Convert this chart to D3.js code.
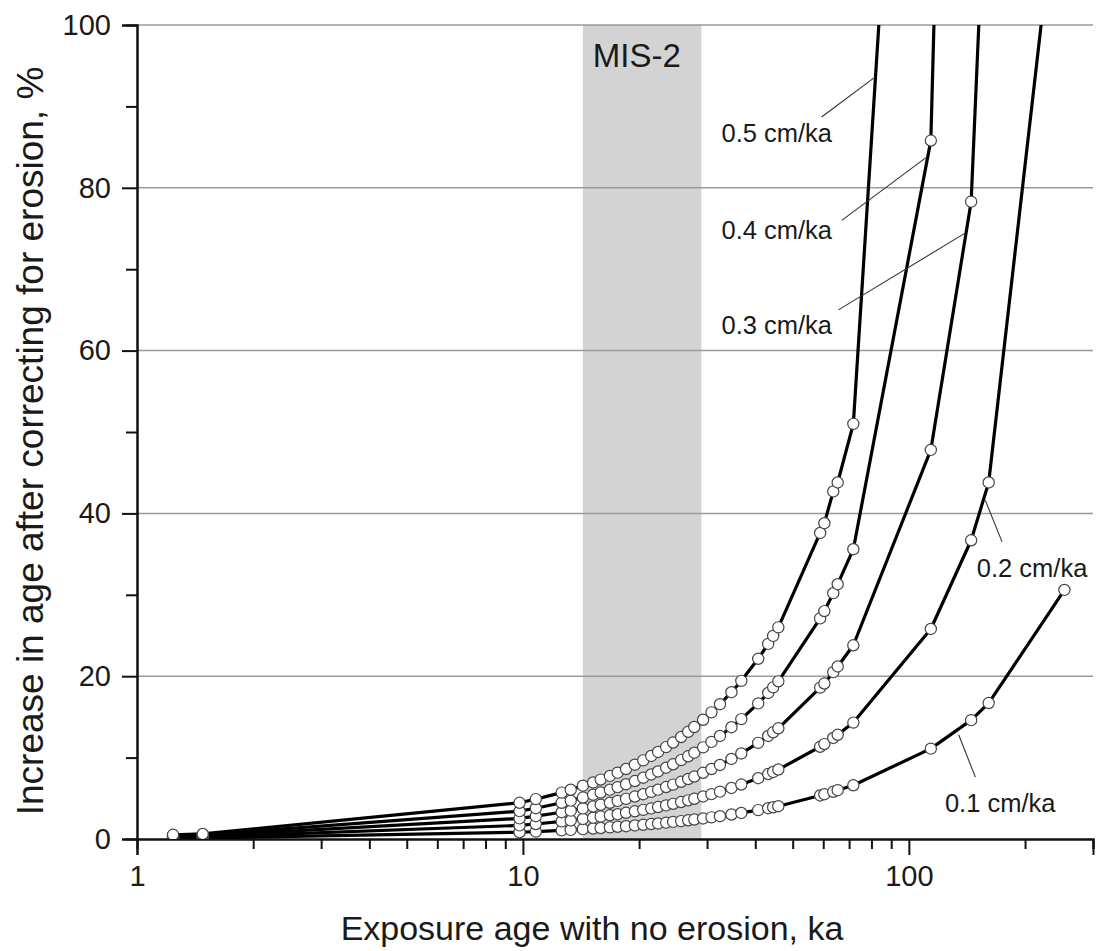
<!DOCTYPE html>
<html>
<head>
<meta charset="utf-8">
<title>Erosion correction</title>
<script src="https://cdn.jsdelivr.net/npm/d3@7"></script>
<style>
  body { margin: 0; background: #fff; }
  text { font-family: "Liberation Sans", Arial, sans-serif; fill: #1a1a1a; }
</style>
</head>
<body>
<svg id="mainsvg" width="1096" height="951"></svg>
<script>
// exposure ages (ka, no erosion) shared by every curve
const ages = [1.24, 1.48, 9.8, 10.8, 12.6, 13.3, 14.3, 15.2, 15.9, 16.8, 17.6, 18.5, 19.5, 20.5,
  21.5, 22.4, 23.5, 24.5, 25.7, 26.8, 27.8, 29.3, 30.8, 32.4, 34.7, 36.8, 40.7, 43.2, 44.5, 45.9,
  58.9, 60.4, 63.7, 65.4, 71.8, 114, 145, 161, 253];

// increase in age (%) for each erosion rate; null = no solution (saturated)
const rate01 = [0.1, 0.12, 0.83, 0.91, 1.06, 1.12, 1.21, 1.29, 1.35, 1.43, 1.5, 1.57, 1.66, 1.75,
  1.84, 1.91, 2.01, 2.1, 2.2, 2.3, 2.39, 2.52, 2.66, 2.8, 3.01, 3.2, 3.55, 3.78, 3.9, 4.03,
  5.35, 5.5, 5.8, 6.0, 6.6, 11.1, 14.6, 16.7, 30.6];
const rate02 = [0.21, 0.25, 1.67, 1.84, 2.16, 2.28, 2.46, 2.62, 2.75, 2.91, 3.05, 3.22, 3.4, 3.58,
  3.76, 3.93, 4.13, 4.32, 4.54, 4.75, 4.94, 5.23, 5.51, 5.82, 6.27, 6.69, 7.47, 7.98, 8.24, 8.53,
  11.33, 11.66, 12.41, 12.8, 14.3, 25.8, 36.7, 43.8, 125];
const rate03 = [0.31, 0.37, 2.53, 2.8, 3.29, 3.48, 3.76, 4.0, 4.2, 4.45, 4.68, 4.93, 5.22, 5.5,
  5.79, 6.06, 6.38, 6.68, 7.03, 7.37, 7.67, 8.13, 8.6, 9.1, 9.83, 10.51, 11.81, 12.66, 13.11, 13.6,
  18.6, 19.1, 20.5, 21.2, 23.8, 47.8, 78.3, 128, null];
const rate04 = [0.41, 0.49, 3.42, 3.78, 4.45, 4.71, 5.09, 5.44, 5.71, 6.06, 6.37, 6.73, 7.12, 7.53,
  7.93, 8.3, 8.76, 9.18, 9.69, 10.16, 10.6, 11.26, 11.93, 12.66, 13.73, 14.73, 16.66, 17.94, 18.63, 19.37,
  27.1, 28.0, 30.2, 31.3, 35.6, 85.8, 270, null, null];
const rate05 = [0.52, 0.62, 4.45, 4.9, 5.7, 6.05, 6.55, 6.95, 7.3, 7.75, 8.15, 8.6, 9.13, 9.66,
  10.2, 10.69, 11.29, 11.85, 12.53, 13.17, 13.76, 14.65, 15.56, 16.56, 18.03, 19.43, 22.14, 23.97, 24.95, 26.0,
  37.6, 38.8, 42.7, 43.8, 51, 200, null, null, null];

const seriesNames = ["0.1 cm/ka", "0.2 cm/ka", "0.3 cm/ka", "0.4 cm/ka", "0.5 cm/ka"];
const seriesValues = [rate01, rate02, rate03, rate04, rate05];

// label text anchor [age, %] and leader line [[age, %], [age, %]]
const labelPos = [[124, 3.3], [150, 32.2], [32.7, 62], [32.7, 73.7], [32.7, 85.6]];
const leaders = [
  [[148.7, 7.6], [134.6, 12.8]],
  [[174.4, 36.5], [157.8, 41.6]],
  [[65.7, 65], [139.5, 74.4]],
  [[67, 76], [111.4, 83.8]],
  [[59.4, 88.7], [81.7, 93.6]]
];

const mis2 = [14.3, 29];
const yMajor = [0, 20, 40, 60, 80, 100];
const yMinor = [10, 30, 50, 70, 90];
const xMajor = [1, 10, 100];
const xMinor = [2, 3, 4, 5, 6, 7, 8, 9, 20, 30, 40, 50, 60, 70, 80, 90, 200, 300];

const svg = d3.select("#mainsvg");
const x = d3.scaleLog().domain([1, 300]).range([137, 1093]);
const y = d3.scaleLinear().domain([0, 100]).range([839, 25]);

// MIS-2 band
svg.append("rect")
  .attr("x", x(mis2[0])).attr("y", y(100))
  .attr("width", x(mis2[1]) - x(mis2[0])).attr("height", y(0) - y(100))
  .attr("fill", "#d3d3d3");

svg.append("text")
  .attr("x", x(mis2[0]) + 54).attr("y", y(96.3))
  .attr("text-anchor", "middle").attr("dominant-baseline", "central")
  .attr("font-size", 33).text("MIS-2");

// horizontal grid
svg.append("g").selectAll("line")
  .data(yMajor.filter(d => d > 0))
  .join("line")
  .attr("x1", x(1)).attr("x2", x(300))
  .attr("y1", d => y(d)).attr("y2", d => y(d))
  .attr("stroke", "#9a9a9a").attr("stroke-width", 1.5);

// axes
const yAxisMajor = d3.axisLeft(y).tickValues(yMajor).tickSize(15).tickPadding(11).tickFormat(d3.format("d"));
const yAxisMinor = d3.axisLeft(y).tickValues(yMinor).tickSize(11).tickFormat("");
const xAxisMajor = d3.axisBottom(x).tickValues(xMajor).tickSize(16).tickPadding(10).tickFormat(d3.format("d"));
const xAxisMinor = d3.axisBottom(x).tickValues(xMinor).tickSize(10).tickFormat("");

function styleAxis(g) {
  g.select(".domain").attr("stroke", "#111").attr("stroke-width", 2);
  g.selectAll(".tick line").attr("stroke", "#111").attr("stroke-width", 2);
  g.selectAll(".tick text").attr("font-size", 29).attr("font-family", "Liberation Sans, Arial, sans-serif").attr("fill", "#1a1a1a");
}

svg.append("g").attr("transform", `translate(${x(1)},0)`).call(yAxisMinor).call(styleAxis);
svg.append("g").attr("transform", `translate(${x(1)},0)`).call(yAxisMajor).call(styleAxis);
svg.append("g").attr("transform", `translate(0,${y(0)})`).call(xAxisMinor).call(styleAxis);
svg.append("g").attr("transform", `translate(0,${y(0)})`).call(xAxisMajor).call(styleAxis);

// clip for curves leaving the top
svg.append("clipPath").attr("id", "plotclip")
  .append("rect").attr("x", x(1)).attr("y", y(100)).attr("width", x(300) - x(1)).attr("height", y(0) - y(100));

const series = seriesValues.map((vals, i) => ({
  name: seriesNames[i],
  points: ages.map((a, j) => ({age: a, v: vals[j]})).filter(p => p.v !== null)
}));

const line = d3.line().x(d => x(d.age)).y(d => y(d.v));

const plot = svg.append("g").attr("clip-path", "url(#plotclip)");
plot.selectAll("path.curve")
  .data(series)
  .join("path")
  .attr("class", "curve")
  .attr("d", d => line(d.points))
  .attr("fill", "none").attr("stroke", "#000").attr("stroke-width", 3.2)
  .attr("stroke-linejoin", "round");

series.forEach(s => {
  plot.append("g").selectAll("circle")
    .data(s.points.filter(p => p.v <= 100))
    .join("circle")
    .attr("cx", d => x(d.age)).attr("cy", d => y(d.v)).attr("r", 5.6)
    .attr("fill", "#fff").attr("stroke", "#444").attr("stroke-width", 1.2);
});

// curve labels with leader lines
svg.append("g").selectAll("line")
  .data(leaders)
  .join("line")
  .attr("x1", d => x(d[0][0])).attr("y1", d => y(d[0][1]))
  .attr("x2", d => x(d[1][0])).attr("y2", d => y(d[1][1]))
  .attr("stroke", "#333").attr("stroke-width", 1.1);

svg.append("g").selectAll("text")
  .data(seriesNames)
  .join("text")
  .attr("x", (d, i) => x(labelPos[i][0])).attr("y", (d, i) => y(labelPos[i][1]))
  .attr("font-size", 25.5).text(d => d);

// axis titles
svg.append("text")
  .attr("x", 592).attr("y", 940)
  .attr("text-anchor", "middle").attr("font-size", 34)
  .text("Exposure age with no erosion, ka");

svg.append("text")
  .attr("transform", `translate(43,${(y(0) + y(100)) / 2 + 9}) rotate(-90)`)
  .attr("text-anchor", "middle").attr("font-size", 37)
  .text("Increase in age after correcting for erosion, %");
</script>
</body>
</html>
